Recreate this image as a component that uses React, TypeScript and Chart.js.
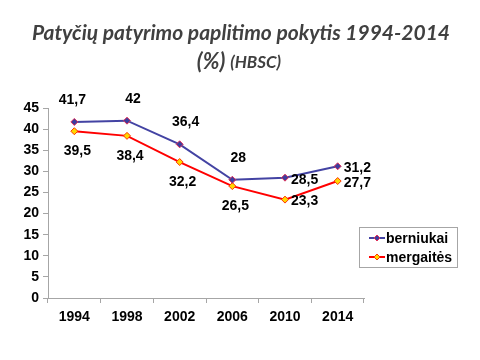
import React, { useEffect, useRef } from "react";
import { Chart, registerables } from "chart.js";

Chart.register(...registerables);

const years = ["1994", "1998", "2002", "2006", "2010", "2014"];
const boys = [41.7, 42, 36.4, 28, 28.5, 31.2];
const girls = [39.5, 38.4, 32.2, 26.5, 23.3, 27.7];
const seriesNames = ["berniukai", "mergaitės"];
const yTicks = [0, 5, 10, 15, 20, 25, 30, 35, 40, 45];
const titleLine1 = "Patyčių patyrimo paplitimo pokytis 1994-2014";
const titleLine2a = "(%)";
const titleLine2b = "(HBSC)";

const fmt = (v: number) => String(v).replace(".", ",");

// label placement per series: "above" | "below" | "right"
const boysPlace = ["above", "above", "above", "above", "right", "right"];
const girlsPlace = ["below", "below", "below", "below", "right", "right"];

const LABEL_FONT = "bold 14px 'Liberation Sans', Arial, sans-serif";

const customPlugin = {
  id: "custom",
  afterDraw(chart: any) {
    const ctx = chart.ctx;
    ctx.save();
    // title
    ctx.fillStyle = "#404040";
    ctx.textBaseline = "middle";
    ctx.textAlign = "center";
    ctx.font = "italic bold 21px Lato, sans-serif";
    ctx.fillText(titleLine1, 241, 33);
    ctx.font = "italic bold 22px Lato, sans-serif";
    const wA = ctx.measureText(titleLine2a + " ").width;
    ctx.font = "italic bold 17px Lato, sans-serif";
    const wB = ctx.measureText(titleLine2b).width;
    const start = 239 - (wA + wB) / 2;
    ctx.textAlign = "left";
    ctx.font = "italic bold 22px Lato, sans-serif";
    ctx.fillText(titleLine2a, start, 62);
    ctx.font = "italic bold 17px Lato, sans-serif";
    ctx.fillText(titleLine2b, start + wA, 63);

    // data labels
    ctx.font = LABEL_FONT;
    ctx.fillStyle = "#000";
    const places = [boysPlace, girlsPlace];
    chart.data.datasets.forEach((ds: any, di: number) => {
      const meta = chart.getDatasetMeta(di);
      meta.data.forEach((pt: any, i: number) => {
        const txt = fmt(ds.data[i]);
        const p = places[di][i];
        if (p === "above") {
          ctx.textAlign = "center";
          ctx.fillText(txt, pt.x + (i === 0 ? -2 : 6), pt.y - 22);
        } else if (p === "below") {
          ctx.textAlign = "center";
          ctx.fillText(txt, pt.x + 3, pt.y + 20);
        } else {
          ctx.textAlign = "left";
          ctx.fillText(txt, pt.x + 6, pt.y + 2);
        }
      });
    });

    // legend
    const lx = 359, ly = 227, lw = 98, lh = 40;
    ctx.strokeStyle = "#a6a6a6";
    ctx.lineWidth = 1;
    ctx.strokeRect(lx + 0.5, ly + 0.5, lw, lh);
    chart.data.datasets.forEach((ds: any, di: number) => {
      const y = ly + 11 + di * 19;
      ctx.strokeStyle = ds.borderColor;
      ctx.lineWidth = 2;
      ctx.beginPath();
      ctx.moveTo(369, y);
      ctx.lineTo(385, y);
      ctx.stroke();
      ctx.fillStyle = ds.pointBackgroundColor;
      ctx.strokeStyle = ds.pointBorderColor;
      ctx.lineWidth = 1;
      ctx.beginPath();
      ctx.moveTo(377, y - 3);
      ctx.lineTo(380, y);
      ctx.lineTo(377, y + 3);
      ctx.lineTo(374, y);
      ctx.closePath();
      ctx.fill();
      ctx.stroke();
      ctx.fillStyle = "#000";
      ctx.textAlign = "left";
      ctx.font = LABEL_FONT;
      ctx.fillText(ds.label, 386, y + 1);
    });
    ctx.restore();
  },
};

export default function App() {
  const ref = useRef<HTMLCanvasElement>(null);
  useEffect(() => {
    document.body.style.margin = "0";
    const chart = new Chart(ref.current!, {
      type: "line",
      data: {
        labels: years,
        datasets: [
          {
            label: seriesNames[0],
            data: boys,
            borderColor: "#4343a3",
            borderWidth: 2,
            pointStyle: "rectRot",
            pointRadius: 3.5,
            pointBackgroundColor: "#3d3d9e",
            pointBorderColor: "#e0305a",
            pointBorderWidth: 1,
          },
          {
            label: seriesNames[1],
            data: girls,
            borderColor: "#ff0000",
            borderWidth: 2,
            pointStyle: "rectRot",
            pointRadius: 3.5,
            pointBackgroundColor: "#ffd800",
            pointBorderColor: "#ff3300",
            pointBorderWidth: 1,
          },
        ],
      },
      plugins: [customPlugin],
      options: {
        animation: false,
        responsive: false,
        layout: { padding: { left: 0, right: 116, top: 108, bottom: 0 } },
        plugins: {
          legend: { display: false },
          title: { display: false },
          tooltip: { enabled: false },
        },
        scales: {
          x: {
            type: "category",
            offset: true,
            afterFit: (s: any) => {
              s.height = 62;
            },
            grid: {
              offset: true,
              drawOnChartArea: false,
              drawTicks: true,
              tickLength: 5,
              color: "#a6a6a6",
            },
            border: { color: "#a6a6a6", width: 1 },
            ticks: {
              color: "#000",
              padding: 6,
              font: { family: "'Liberation Sans', Arial, sans-serif", size: 14, weight: "bold" },
            },
          },
          y: {
            min: 0,
            max: 45,
            afterFit: (s: any) => {
              s.width = 48;
            },
            afterBuildTicks: (s: any) => {
              s.ticks = yTicks.map((v) => ({ value: v }));
            },
            grid: {
              drawOnChartArea: false,
              drawTicks: true,
              tickLength: 5,
              color: "#a6a6a6",
            },
            border: { color: "#a6a6a6", width: 1 },
            ticks: {
              color: "#000",
              padding: 4,
              font: { family: "'Liberation Sans', Arial, sans-serif", size: 14, weight: "bold" },
            },
          },
        },
      },
    });
    return () => chart.destroy();
  }, []);
  return (
    <div style={{ position: "absolute", left: 0, top: 0, width: 480, height: 360, background: "#fff" }}>
      <canvas ref={ref} width={480} height={360} />
    </div>
  );
}
